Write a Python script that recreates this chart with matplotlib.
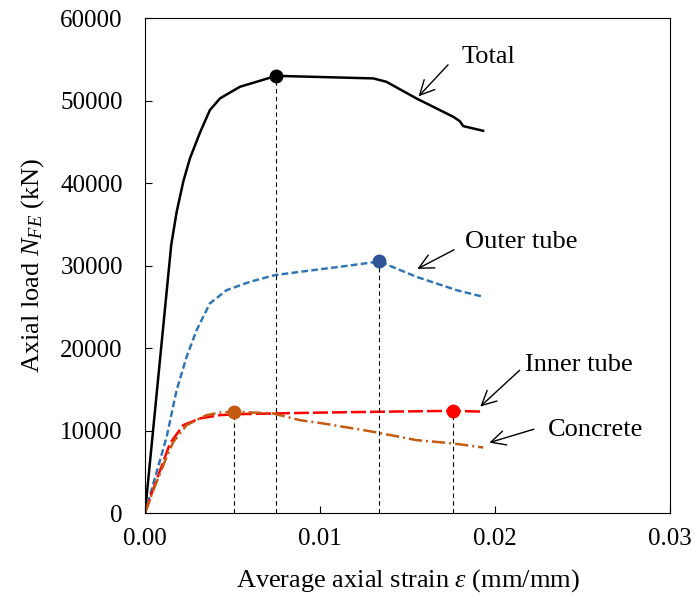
import numpy as np
import matplotlib
matplotlib.use("Agg")
import matplotlib.pyplot as plt

plt.rcParams['font.family'] = ['Liberation Serif', 'DejaVu Serif']
plt.rcParams['mathtext.fontset'] = 'custom'
plt.rcParams['mathtext.rm'] = 'Liberation Serif'
plt.rcParams['mathtext.it'] = 'Liberation Serif:italic'

# Load-strain curves (strain in mm/mm, load in kN)
total_strain = [0, 0.0015, 0.00181, 0.00219, 0.00257, 0.00314, 0.00371, 0.00429, 0.00543,
                0.00638, 0.0075, 0.01305, 0.0138, 0.01552, 0.01762, 0.0180, 0.01819, 0.01933]
total_load = [0, 32500, 36500, 40200, 43000, 46100, 48850, 50270, 51680,
              52280, 53000, 52690, 52280, 50260, 48040, 47500, 46910, 46340]

outer_strain = [0, 0.00048, 0.00124, 0.00181, 0.00238, 0.00295, 0.00371, 0.00467, 0.006,
                0.00743, 0.00886, 0.01114, 0.0134, 0.01552, 0.01781, 0.01933]
outer_load = [0, 3600, 9250, 14910, 18950, 22180, 25420, 27030, 28040,
              28850, 29250, 29860, 30500, 28640, 27030, 26220]

inner_strain = [0, 0.00038, 0.00143, 0.00219, 0.00314, 0.00429, 0.00543, 0.00924,
                0.01305, 0.0176, 0.01933]
inner_load = [0, 2390, 8450, 10670, 11480, 11880, 12000, 12160, 12280, 12400, 12300]

concrete_strain = [0, 0.00048, 0.00124, 0.00162, 0.00238, 0.00352, 0.00429, 0.0051,
                   0.00733, 0.00886, 0.01019, 0.01305, 0.01552, 0.01762, 0.01933]
concrete_load = [0, 2790, 6830, 8640, 10670, 11880, 12200, 12300, 12080, 11270,
                 10870, 9860, 8850, 8450, 7960]

# Peak points marked on each curve
peak_strain = [0.0075, 0.0134, 0.0176, 0.0051]
peak_load = [53000, 30500, 12400, 12300]
peak_color = ['black', '#2F5597', '#FF0000', '#C55A11']

fig = plt.figure(figsize=(6.97, 6.03), dpi=100)
ax = fig.add_axes([0.208, 0.149, 0.753, 0.821])

ax.plot(total_strain, total_load, color='black', lw=1.8)
ax.plot(outer_strain, outer_load, color='#2E75B6', lw=1.75, ls=(0, (2.75, 1.35)))
ax.plot(inner_strain, inner_load, color='#FF0000', lw=1.8, ls=(0, (6, 1.6)))
ax.plot(concrete_strain, concrete_load, color='#C55A11', lw=1.8, ls=(0, (5.3, 1.6, 0.8, 1.6)))

for xs, ys, c in zip(peak_strain, peak_load, peak_color):
    ax.plot([xs, xs], [0, ys], color='black', lw=0.8, ls=(0, (4, 3)))
    ax.plot(xs, ys, 'o', color=c, ms=9, zorder=5)

# Curve labels with arrows
labels = [
    ("Total", (0.01811, 55270), (0.01743, 54580), (0.01553, 50270)),
    ("Outer tube", (0.01829, 32850), (0.01781, 32080), (0.01543, 29450)),
    ("Inner tube", (0.02171, 17940), (0.02153, 17540), (0.01905, 12690)),
    ("Concrete", (0.02303, 10060), (0.02238, 10270), (0.01953, 8450)),
]
for text, tpos, tail, head in labels:
    ax.text(tpos[0], tpos[1], text, fontsize=19, va='center', ha='left')
    ax.annotate('', xy=head, xytext=tail,
                arrowprops=dict(arrowstyle='->', color='black', lw=1, mutation_scale=26))

ax.set_xlim(0, 0.03)
ax.set_ylim(0, 60000)
ax.set_xticks([0, 0.01, 0.02, 0.03])
ax.set_xticklabels(["0.00", "0.01", "0.02", "0.03"])
ax.set_yticks(np.arange(0, 60001, 10000))
ax.tick_params(direction='in', labelsize=18, length=5)
ax.tick_params(axis='x', pad=11)
ax.tick_params(axis='y', pad=16)
ax.set_xlabel(r"Average axial strain $\varepsilon$ (mm/mm)", fontsize=19, labelpad=12)
ax.set_ylabel(r"Axial load $N_{FE}$ (kN)", fontsize=19, labelpad=10)

fig.savefig("out.png", dpi=100)
